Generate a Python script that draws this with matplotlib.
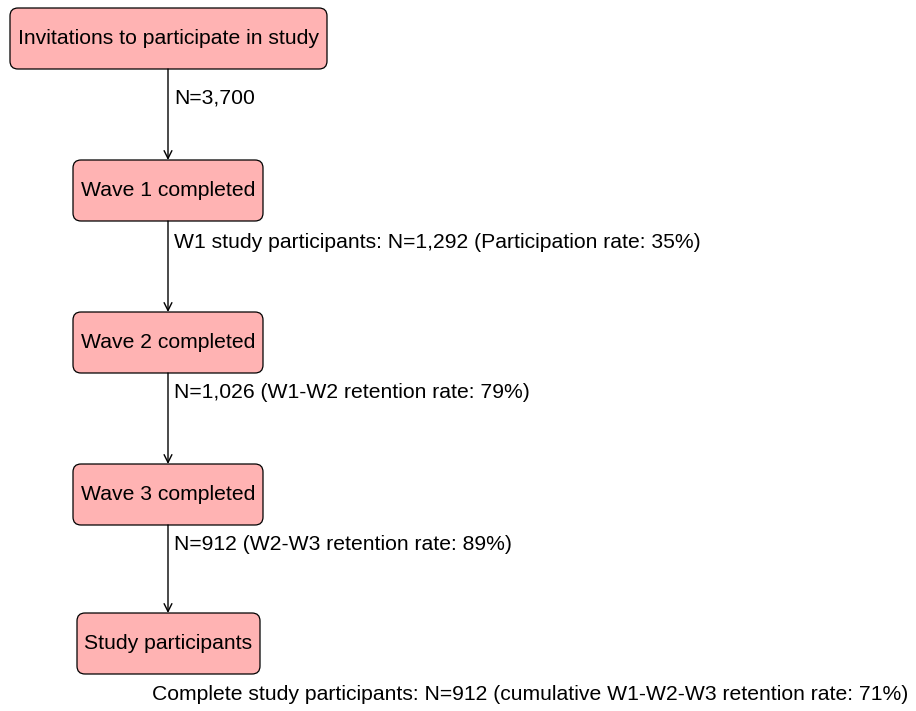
import matplotlib
matplotlib.use("Agg")
import matplotlib.pyplot as plt
from matplotlib.patches import FancyBboxPatch

plt.rcParams["font.family"] = ["Liberation Sans", "DejaVu Sans"]

stage_labels = [
    "Invitations to participate in study",
    "Wave 1 completed",
    "Wave 2 completed",
    "Wave 3 completed",
    "Study participants",
]
flow_labels = [
    "N=3,700",
    "W1 study participants: N=1,292 (Participation rate: 35%)",
    "N=1,026 (W1-W2 retention rate: 79%)",
    "N=912 (W2-W3 retention rate: 89%)",
]
footer_label = "Complete study participants: N=912 (cumulative W1-W2-W3 retention rate: 71%)"

# layout in pixels (x0, x1, y0, y1)
boxes = [
    (10, 327, 8, 69),
    (73, 263, 160, 221),
    (73, 263, 312, 373),
    (73, 263, 464, 525),
    (77, 260, 613, 674),
]
label_y = [98, 243, 393, 544]
arrow_x = 168
fill = "#ffb3b3"
font_size = 15.2

fig = plt.figure(figsize=(9.16, 7.11), dpi=100)
ax = fig.add_axes([0, 0, 1, 1])
ax.set_xlim(0, 916)
ax.set_ylim(711, 0)
ax.axis("off")

for (x0, x1, y0, y1), text in zip(boxes, stage_labels):
    r = 8
    patch = FancyBboxPatch(
        (x0 + r, y0 + r), x1 - x0 - 2 * r, y1 - y0 - 2 * r,
        boxstyle=f"round,pad={r}",
        facecolor=fill, edgecolor="black", linewidth=0.9,
    )
    ax.add_patch(patch)
    ax.text((x0 + x1) / 2, (y0 + y1) / 2, text, ha="center", va="center",
            fontsize=font_size)

for i, text in enumerate(flow_labels):
    y_start = boxes[i][3]
    y_end = boxes[i + 1][2]
    ax.annotate(
        "", xy=(arrow_x, y_end), xytext=(arrow_x, y_start),
        arrowprops=dict(arrowstyle="->", color="black", lw=1.0,
                        shrinkA=0, shrinkB=0, mutation_scale=14),
    )
    ax.text(arrow_x + 6, label_y[i], text, ha="left", va="center",
            fontsize=font_size)

ax.text(530, 694, footer_label, ha="center", va="center", fontsize=font_size)

fig.savefig("out.png", dpi=100)
